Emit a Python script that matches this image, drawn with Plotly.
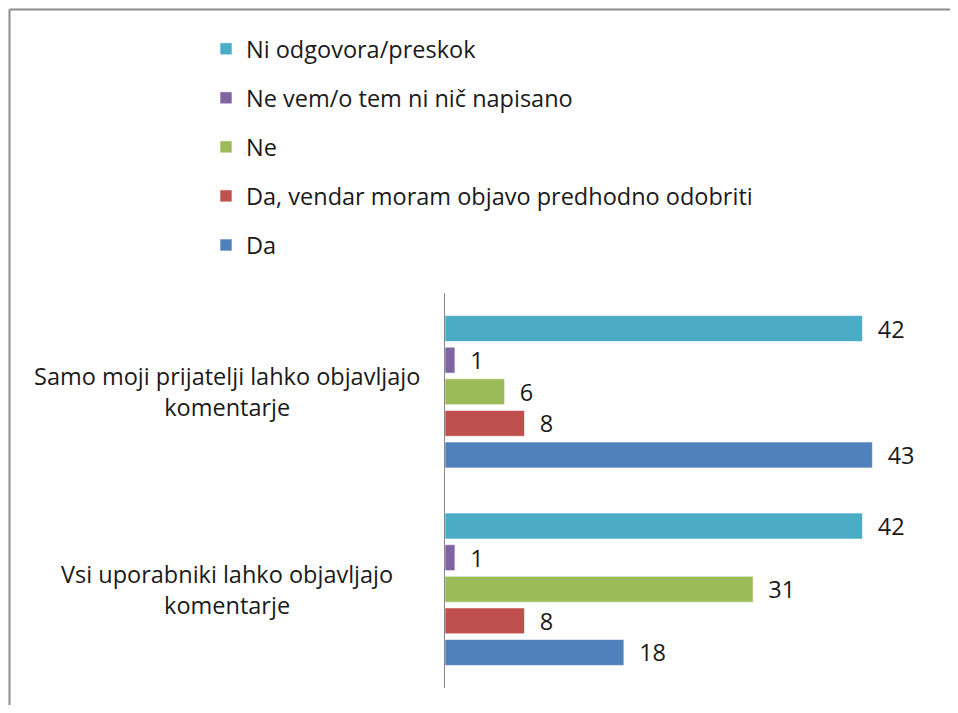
import plotly.graph_objects as go

categories = ["Vsi uporabniki lahko objavljajo komentarje",
              "Samo moji prijatelji lahko objavljajo komentarje"]
category_labels = ["Vsi uporabniki lahko objavljajo<br>komentarje",
                   "Samo moji prijatelji lahko objavljajo<br>komentarje"]

series_names = ["Da", "Da, vendar moram objavo predhodno odobriti", "Ne",
                "Ne vem/o tem ni nič napisano", "Ni odgovora/preskok"]
da = [18, 43]
da_vendar = [8, 8]
ne = [31, 6]
ne_vem = [1, 1]
ni_odgovora = [42, 42]

colors = ["#4F81BD", "#C0504D", "#9BBB59", "#8064A2", "#4BACC6"]
font_family = "'Open Sans', Lato, sans-serif"
fs = 23.5

# page adds an 8px body margin, figure sized to avoid scrollbars
W, H = 942, 697
L, R, T, B = 437, 8, 285, 17
pw, ph = W - L - R, H - T - B


def px_x(p):
    return (p - L) / pw


def px_y(p):
    return (H - B - p) / ph


fig = go.Figure()

for i, (name, vals) in enumerate(zip(series_names, [da, da_vendar, ne, ne_vem, ni_odgovora])):
    fig.add_trace(go.Bar(
        y=categories,
        x=vals,
        name=name,
        orientation='h',
        marker=dict(color=colors[i], line=dict(color='rgba(255,255,255,0.6)', width=1)),
        texttemplate='\u00a0\u00a0%{x}',
        textposition='outside',
        constraintext='none',
        cliponaxis=False,
        textfont=dict(size=fs, color='#1a1a1a', family=font_family),
        legendgroup=name,
        legendrank=len(series_names) - i,
    ))

for cat, lab in zip(categories, category_labels):
    fig.add_annotation(
        x=px_x(219), xref='paper', y=cat, yref='y',
        text=lab, showarrow=False, align='center',
        xanchor='center', yanchor='middle',
        font=dict(size=fs, color='#1a1a1a', family=font_family),
    )

# chart frame (top and left edges visible)
fig.add_shape(type='line', xref='paper', yref='paper',
              x0=px_x(1.5), x1=px_x(W), y0=px_y(1.5), y1=px_y(1.5),
              line=dict(color='#8c8c8c', width=2))
fig.add_shape(type='line', xref='paper', yref='paper',
              x0=px_x(1.5), x1=px_x(1.5), y0=px_y(1.5), y1=px_y(H),
              line=dict(color='#8c8c8c', width=2))

fig.update_layout(
    width=W, height=H,
    margin=dict(l=L, r=R, t=T, b=B, pad=0),
    plot_bgcolor='white', paper_bgcolor='white',
    barmode='group', bargap=0.2, bargroupgap=0.18,
    showlegend=True,
    legend=dict(
        x=px_x(198), xanchor='left',
        y=px_y(19), yanchor='top',
        traceorder='grouped',
        tracegroupgap=15.5,
        font=dict(size=fs, color='#1a1a1a', family=font_family),
        bgcolor='rgba(0,0,0,0)',
    ),
    xaxis=dict(range=[0, 50], visible=False, fixedrange=True),
    yaxis=dict(showline=True, linecolor='#868686', linewidth=1,
               showticklabels=False, ticks='', showgrid=False, zeroline=False),
)

fig.write_html("out.html")
